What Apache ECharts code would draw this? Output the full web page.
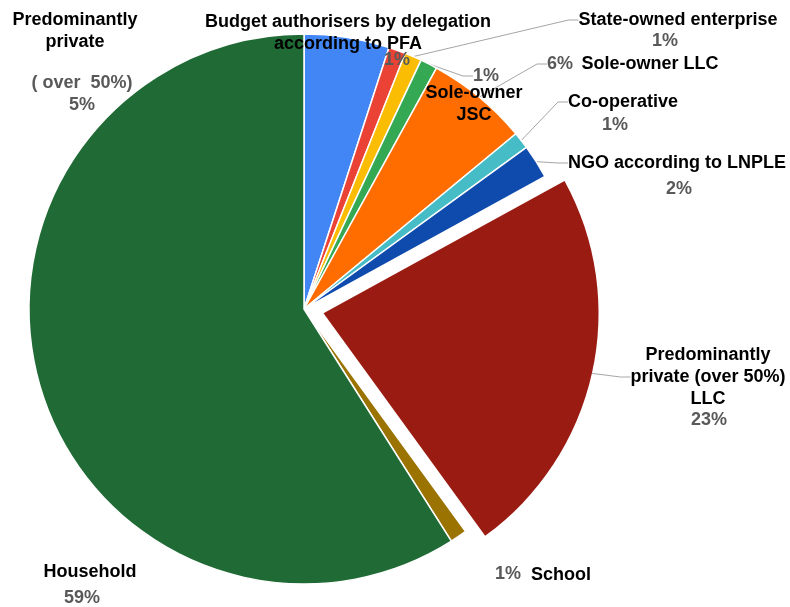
<!DOCTYPE html>
<html>
<head>
<meta charset="utf-8">
<script src="https://cdn.jsdelivr.net/npm/echarts@6/dist/echarts.min.js"></script>
<style>
  html, body { margin: 0; padding: 0; background: #ffffff; }
  #chart { width: 790px; height: 607px; }
</style>
</head>
<body>
<div id="chart"></div>
<script>
// Legal form of the units (share of total, %)
const categories = [
  'Predominantly private (over 50%)',
  'Budget authorisers by delegation according to PFA',
  'State-owned enterprise',
  'Sole-owner JSC',
  'Sole-owner LLC',
  'Co-operative',
  'NGO according to LNPLE',
  'Predominantly private (over 50%) LLC',
  'School',
  'Household'
];
const shares = [5, 1, 1, 1, 6, 1, 2, 23, 1, 59];

// Text shown next to each slice (name part and an optional note above the percentage)
const nameLabels = [
  'Predominantly\nprivate',
  'Budget authorisers by delegation\naccording to PFA',
  'State-owned enterprise',
  'Sole-owner\nJSC',
  'Sole-owner LLC',
  'Co-operative',
  'NGO according to LNPLE',
  'Predominantly\nprivate (over 50%)\nLLC',
  'School',
  'Household'
];
const pctNotes = ['( over  50%)', '', '', '', '', '', '', '', '', ''];

const colors = ['#4285F4', '#EA4335', '#FBBC04', '#34A853', '#FF6D01',
                '#46BDC6', '#0F4AAD', '#9A1B11', '#9B7300', '#206B35'];

// The slice pulled out of the pie
const EXPLODED = 7;
const EXPLODE_DIST = 20;

// Label anchor points (centre of each text block)
const namePos = [
  [75, 31], [348, 33], [678, 20], [474, 104], [650, 64],
  [623, 102], [677, 163], [708, 377], [561, 575], [90, 572]
];
const pctPos = [
  [82, 94], [397, 60], [665, 41], [486, 76], [560, 64],
  [615, 125], [679, 189], [709, 420], [508, 574], [82, 598]
];
// Which labels carry a leader line
const nameLine = [false, false, true, false, false, true, true, true, false, false];
const pctLine  = [true, false, false, true, true, false, false, false, false, false];

const FONT = '"Liberation Sans", Arial, sans-serif';
const CENTER = [304, 309];
const RADIUS = 275;

// Offset of the pulled-out slice along its mid angle (clockwise from 12 o'clock)
const total = shares.reduce((a, b) => a + b, 0);
const before = shares.slice(0, EXPLODED).reduce((a, b) => a + b, 0);
const midRad = (before + shares[EXPLODED] / 2) / total * 2 * Math.PI;
const explodedCenter = [
  CENTER[0] + EXPLODE_DIST * Math.sin(midRad),
  CENTER[1] - EXPLODE_DIST * Math.cos(midRad)
];

const chart = echarts.init(document.getElementById('chart'), null, { renderer: 'canvas' });

const clear = 'rgba(0,0,0,0)';
const lineStyle = { color: '#a6a6a6', width: 1 };

const nameLabel = {
  show: true,
  position: 'outside',
  formatter: p => nameLabels[p.dataIndex],
  color: '#000000',
  fontFamily: FONT,
  fontSize: 18,
  fontWeight: 'bold',
  lineHeight: 22,
  align: 'center'
};
const nameLayout = p => ({
  x: namePos[p.dataIndex][0],
  y: namePos[p.dataIndex][1],
  align: 'center',
  verticalAlign: 'middle'
});

const mainData = categories.map((name, i) => ({
  name: name,
  value: shares[i],
  itemStyle: { color: i === EXPLODED ? clear : colors[i],
               borderColor: i === EXPLODED ? clear : '#ffffff' },
  label: { show: i !== EXPLODED },
  labelLine: { show: nameLine[i] && i !== EXPLODED }
}));

const explodedData = categories.map((name, i) => ({
  name: name,
  value: shares[i],
  itemStyle: { color: i === EXPLODED ? colors[i] : clear, borderWidth: 0 },
  label: { show: i === EXPLODED },
  labelLine: { show: i === EXPLODED && nameLine[i] }
}));

const pctData = categories.map((name, i) => ({
  name: name,
  value: shares[i],
  labelLine: { show: pctLine[i] }
}));

const common = {
  type: 'pie',
  radius: RADIUS,
  startAngle: 90,
  clockwise: true,
  avoidLabelOverlap: false,
  emphasis: { disabled: true },
  labelLine: { show: true, length: 10, length2: 10, maxSurfaceAngle: 180, lineStyle: lineStyle }
};

chart.setOption({
  backgroundColor: '#ffffff',
  animation: false,
  series: [
    Object.assign({}, common, {
      name: 'share',
      center: CENTER,
      itemStyle: { borderColor: '#ffffff', borderWidth: 1.5 },
      label: nameLabel,
      labelLayout: nameLayout,
      data: mainData
    }),
    Object.assign({}, common, {
      name: 'share (pulled out)',
      center: explodedCenter,
      label: nameLabel,
      labelLayout: nameLayout,
      data: explodedData
    }),
    Object.assign({}, common, {
      name: 'percent',
      center: CENTER,
      silent: true,
      itemStyle: { color: clear, borderWidth: 0 },
      label: {
        show: true,
        position: 'outside',
        formatter: p => {
          const pct = Math.round(p.percent) + '%';
          const note = pctNotes[p.dataIndex];
          return note ? note + '\n' + pct : pct;
        },
        color: '#595959',
        fontFamily: FONT,
        fontSize: 18,
        fontWeight: 'bold',
        lineHeight: 22,
        align: 'center'
      },
      labelLayout: p => ({
        x: pctPos[p.dataIndex][0],
        y: pctPos[p.dataIndex][1],
        align: 'center',
        verticalAlign: 'middle'
      }),
      data: pctData
    })
  ]
});
</script>
</body>
</html>
